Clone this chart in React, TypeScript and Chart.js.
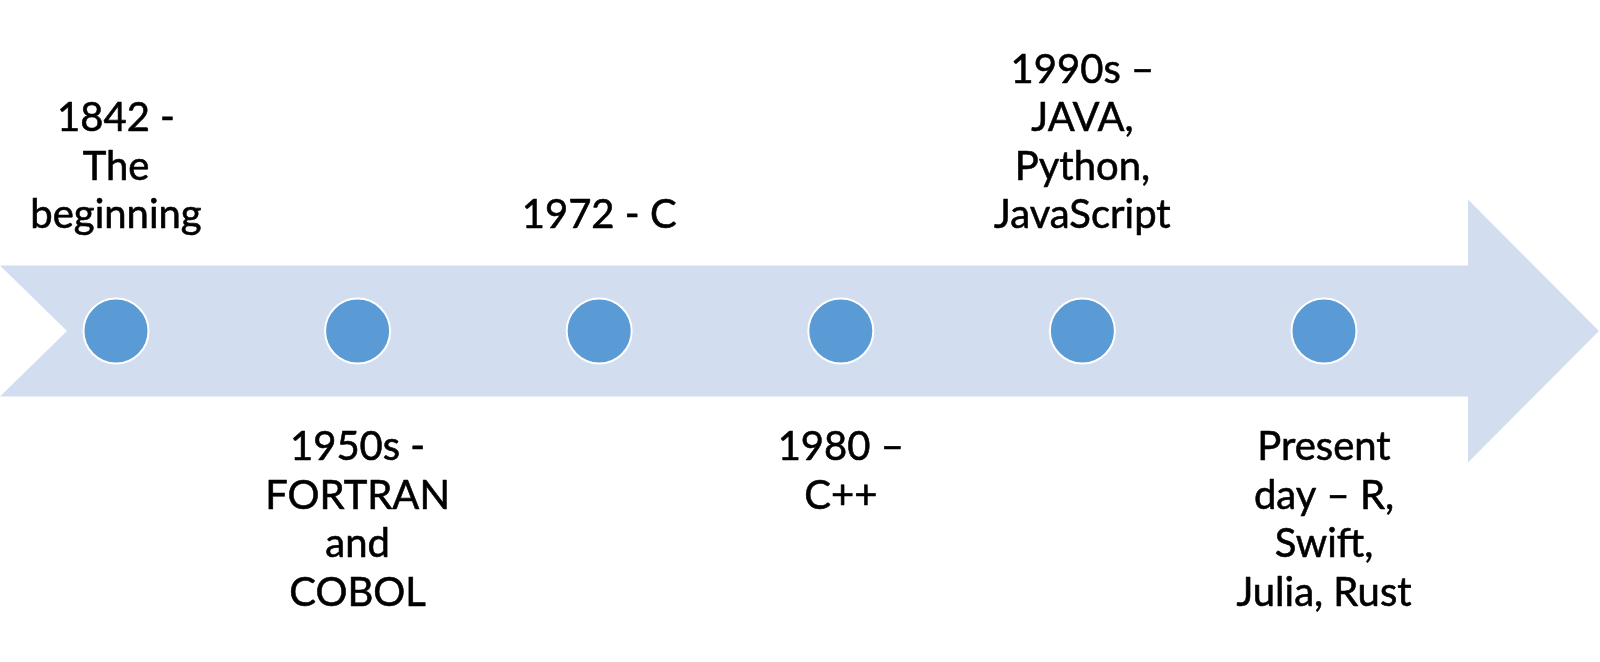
import React, { useEffect, useRef } from "react";
import { Chart, registerables } from "chart.js";

Chart.register(...registerables);

// ---- data ----
const eventIndex = [0, 1, 2, 3, 4, 5];
const eventLabels: string[][] = [
  ["1842 -", "The", "beginning"],
  ["1950s -", "FORTRAN", "and", "COBOL"],
  ["1972 - C"],
  ["1980 –", "C++"],
  ["1990s –", "JAVA,", "Python,", "JavaScript"],
  ["Present", "day – R,", "Swift,", "Julia, Rust"],
];
const eventSide = ["above", "below", "above", "below", "above", "below"];

// ---- style ----
const ARROW_COLOR = "#D2DDEF";
const DOT_COLOR = "#5B9BD5";
const FONT_FAMILY = "Lato, 'Open Sans', sans-serif";
const FONT_SIZE = 40;
const LINE_GAP = 48.5;

// arrow geometry (x in event units, y in vertical offset units)
const ARROW = {
  notchX: -0.2028,
  headX: 5.596,
  tipX: 6.138,
  bodyHalf: 65.5,
  headHalf: 131.5,
};

const arrowPlugin = {
  id: "timelineArrow",
  beforeDatasetsDraw(chart: any) {
    const { ctx, scales } = chart;
    const xs = scales.x;
    const ys = scales.y;
    const X = (v: number) => xs.getPixelForValue(v);
    const Y = (v: number) => ys.getPixelForValue(v);
    ctx.save();
    ctx.fillStyle = ARROW_COLOR;
    ctx.beginPath();
    ctx.moveTo(X(xs.min), Y(ARROW.bodyHalf));
    ctx.lineTo(X(ARROW.headX), Y(ARROW.bodyHalf));
    ctx.lineTo(X(ARROW.headX), Y(ARROW.headHalf));
    ctx.lineTo(X(ARROW.tipX), Y(0));
    ctx.lineTo(X(ARROW.headX), Y(-ARROW.headHalf));
    ctx.lineTo(X(ARROW.headX), Y(-ARROW.bodyHalf));
    ctx.lineTo(X(xs.min), Y(-ARROW.bodyHalf));
    ctx.lineTo(X(ARROW.notchX), Y(0));
    ctx.closePath();
    ctx.fill();
    ctx.restore();
  },
};

const labelPlugin = {
  id: "timelineLabels",
  afterDatasetsDraw(chart: any) {
    const { ctx, scales } = chart;
    const xs = scales.x;
    const ys = scales.y;
    ctx.save();
    ctx.fillStyle = "#000000";
    ctx.strokeStyle = "#000000";
    ctx.lineWidth = 0.6;
    ctx.lineJoin = "round";
    ctx.font = `${FONT_SIZE}px ${FONT_FAMILY}`;
    ctx.textAlign = "center";
    ctx.textBaseline = "alphabetic";
    const draw = (t: string, x: number, y: number) => {
      ctx.fillText(t, x, y);
      ctx.strokeText(t, x, y);
    };
    eventIndex.forEach((xi, i) => {
      const lines = eventLabels[i];
      const cx = xs.getPixelForValue(xi);
      if (eventSide[i] === "above") {
        const lastBase = ys.getPixelForValue(103);
        lines.forEach((t, k) => {
          draw(t, cx, lastBase - (lines.length - 1 - k) * LINE_GAP);
        });
      } else {
        const firstBase = ys.getPixelForValue(-129);
        lines.forEach((t, k) => {
          draw(t, cx, firstBase + k * LINE_GAP);
        });
      }
    });
    ctx.restore();
  },
};

export default function App() {
  const ref = useRef<HTMLCanvasElement | null>(null);
  useEffect(() => {
    if (!ref.current) return;
    const chart = new Chart(ref.current, {
      type: "scatter",
      data: {
        datasets: [
          {
            data: eventIndex.map((x) => ({ x, y: 0 })),
            pointRadius: 32.5,
            pointHoverRadius: 32.5,
            backgroundColor: DOT_COLOR,
            borderColor: "#FFFFFF",
            borderWidth: 2,
            clip: false as any,
          },
        ],
      },
      options: {
        animation: false,
        responsive: true,
        maintainAspectRatio: false,
        events: [],
        layout: { padding: 0, autoPadding: false } as any,
        plugins: {
          legend: { display: false },
          tooltip: { enabled: false },
        },
        scales: {
          x: { type: "linear", min: -0.4801, max: 6.1424, display: false },
          y: { type: "linear", min: -331, max: 331, display: false },
        },
      },
      plugins: [arrowPlugin, labelPlugin],
    });
    return () => chart.destroy();
  }, []);
  return (
    <div
      style={{
        position: "fixed",
        left: 0,
        top: 0,
        width: "1600px",
        height: "662px",
        background: "#FFFFFF",
      }}
    >
      <canvas ref={ref} />
    </div>
  );
}
